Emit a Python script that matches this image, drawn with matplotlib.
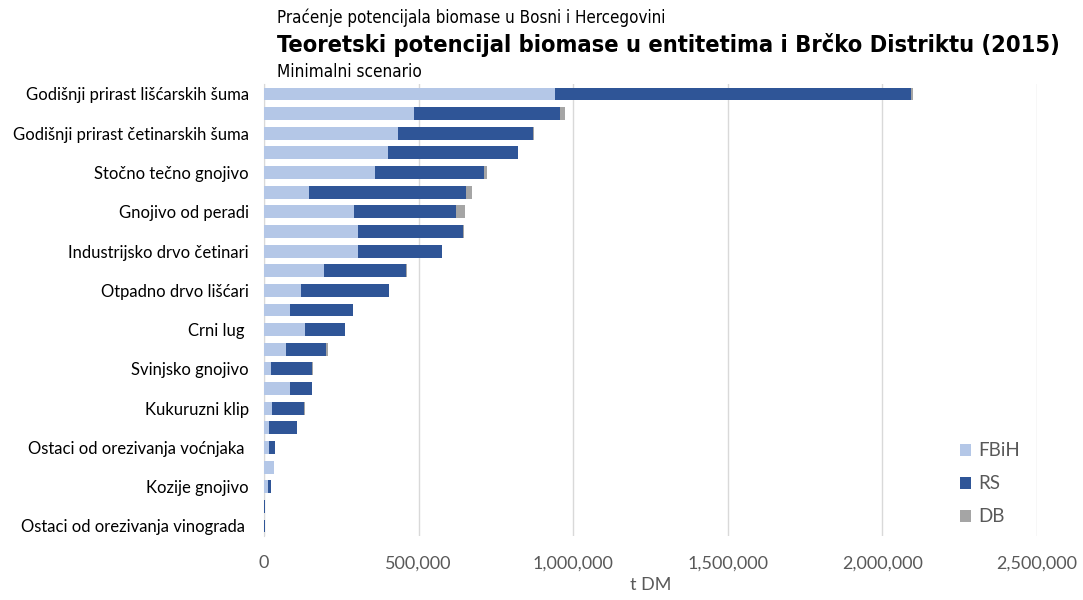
import matplotlib.pyplot as plt
import numpy as np
from matplotlib import font_manager
from matplotlib.font_manager import FontProperties
from matplotlib.ticker import FuncFormatter

# categories from top to bottom, only every other row gets a label
categories = [
    "Godišnji prirast lišćarskih šuma", "",
    "Godišnji prirast četinarskih šuma", "",
    "Stočno tečno gnojivo", "",
    "Gnojivo od peradi", "",
    "Industrijsko drvo četinari", "",
    "Otpadno drvo lišćari", "",
    "Crni lug ", "",
    "Svinjsko gnojivo", "",
    "Kukuruzni klip", "",
    "Ostaci od orezivanja voćnjaka ", "",
    "Kozije gnojivo", "",
    "Ostaci od orezivanja vinograda ",
]

# t DM per entity
fbih = [940000, 486000, 434000, 402000, 360000, 147000, 292000, 304000,
        304000, 193000, 121000, 83000, 132000, 70000, 22000, 83000,
        27000, 16000, 16000, 32000, 13000, 1000, 1000]
rs = [1151000, 472000, 435000, 418000, 353000, 506000, 329000, 340000,
      272000, 266000, 283000, 205000, 129000, 132000, 132000, 71000,
      103000, 90000, 18000, 0, 8000, 3000, 3000]
db = [8000, 14000, 3000, 2000, 8000, 20000, 28000, 2000,
      1000, 2000, 1000, 1000, 1000, 4000, 4000, 2000,
      1000, 2000, 1000, 1000, 1000, 0, 0]

series_names = ["FBiH", "RS", "DB"]
colors = ["#B4C7E7", "#2F5597", "#A5A5A5"]

header = "Praćenje potencijala biomase u Bosni i Hercegovini"
title = "Teoretski potencijal biomase u entitetima i Brčko Distriktu (2015)"
scenario = "Minimalni scenario"

plt.rcParams['font.family'] = ['Lato', 'DejaVu Sans']


def narrow_font(bold):
    # look for any condensed / narrow face, otherwise plain DejaVu Sans
    best = None
    for f in font_manager.fontManager.ttflist:
        nm = f.name.lower()
        is_narrow = ("narrow" in nm or "condensed" in nm
                     or "condensed" in str(f.stretch) or "narrow" in f.fname.lower()
                     or "condensed" in f.fname.lower())
        if not is_narrow or f.style != "normal":
            continue
        w = f.weight if isinstance(f.weight, int) else (700 if f.weight == "bold" else 400)
        if "semi" in f.fname.lower() or "extra" in f.fname.lower():
            continue
        if (w >= 600) != bold:
            continue
        score = 0 if "liberation" in nm else (1 if "dejavu" in nm else 2)
        if best is None or score < best[0]:
            best = (score, f.fname)
    if best:
        return FontProperties(fname=best[1])
    return FontProperties(family="DejaVu Sans", weight="bold" if bold else "normal")


fig = plt.figure(figsize=(10.83, 6), dpi=100)
ax = fig.add_axes([0.2438, 0.107, 0.9575 - 0.2438, 0.7527])

y = np.arange(len(categories))
left = np.zeros(len(categories))
for vals, name, col in zip([fbih, rs, db], series_names, colors):
    ax.barh(y, vals, left=left, height=0.66, color=col, label=name, zorder=3)
    left += np.array(vals)

ax.set_ylim(len(categories) - 0.5, -0.5)
ax.set_xlim(0, 2500000)
ax.set_yticks(y)
ax.set_yticklabels(categories, fontsize=12, color="black")
ax.set_xticks(np.arange(0, 2500001, 500000))
ax.xaxis.set_major_formatter(FuncFormatter(lambda v, p: f"{int(v):,}"))
ax.tick_params(axis='x', labelsize=13, colors="#595959", length=0, pad=14)
ax.tick_params(axis='y', length=0, pad=11)
ax.grid(axis='x', color="#D9D9D9", linewidth=1, zorder=0)

for s in ["top", "right", "bottom"]:
    ax.spines[s].set_visible(False)
ax.spines["left"].set_color("#D9D9D9")

ax.set_xlabel("t DM", fontsize=13, color="#595959", labelpad=4)

leg = ax.legend(loc="lower right", bbox_to_anchor=(1.0, -0.014), frameon=False,
                fontsize=13.5, handlelength=0.6, handleheight=0.6,
                labelspacing=0.85, handletextpad=0.4)
for t in leg.get_texts():
    t.set_color("#595959")

# header lines, sized so each spans its intended width
renderer = fig.canvas.get_renderer()
for txt, ypx, width_px, bold in [(header, 18, 388, False),
                                 (title, 45, 781, True),
                                 (scenario, 72, 144, False)]:
    fp = narrow_font(bold)
    fp.set_size(12)
    t = fig.text(277 / 1083, 1 - ypx / 600, txt, fontproperties=fp,
                 va="center", ha="left")
    w = t.get_window_extent(renderer).width
    fp.set_size(12 * width_px / w)
    t.set_fontproperties(fp)

fig.savefig("out.png", dpi=100)
